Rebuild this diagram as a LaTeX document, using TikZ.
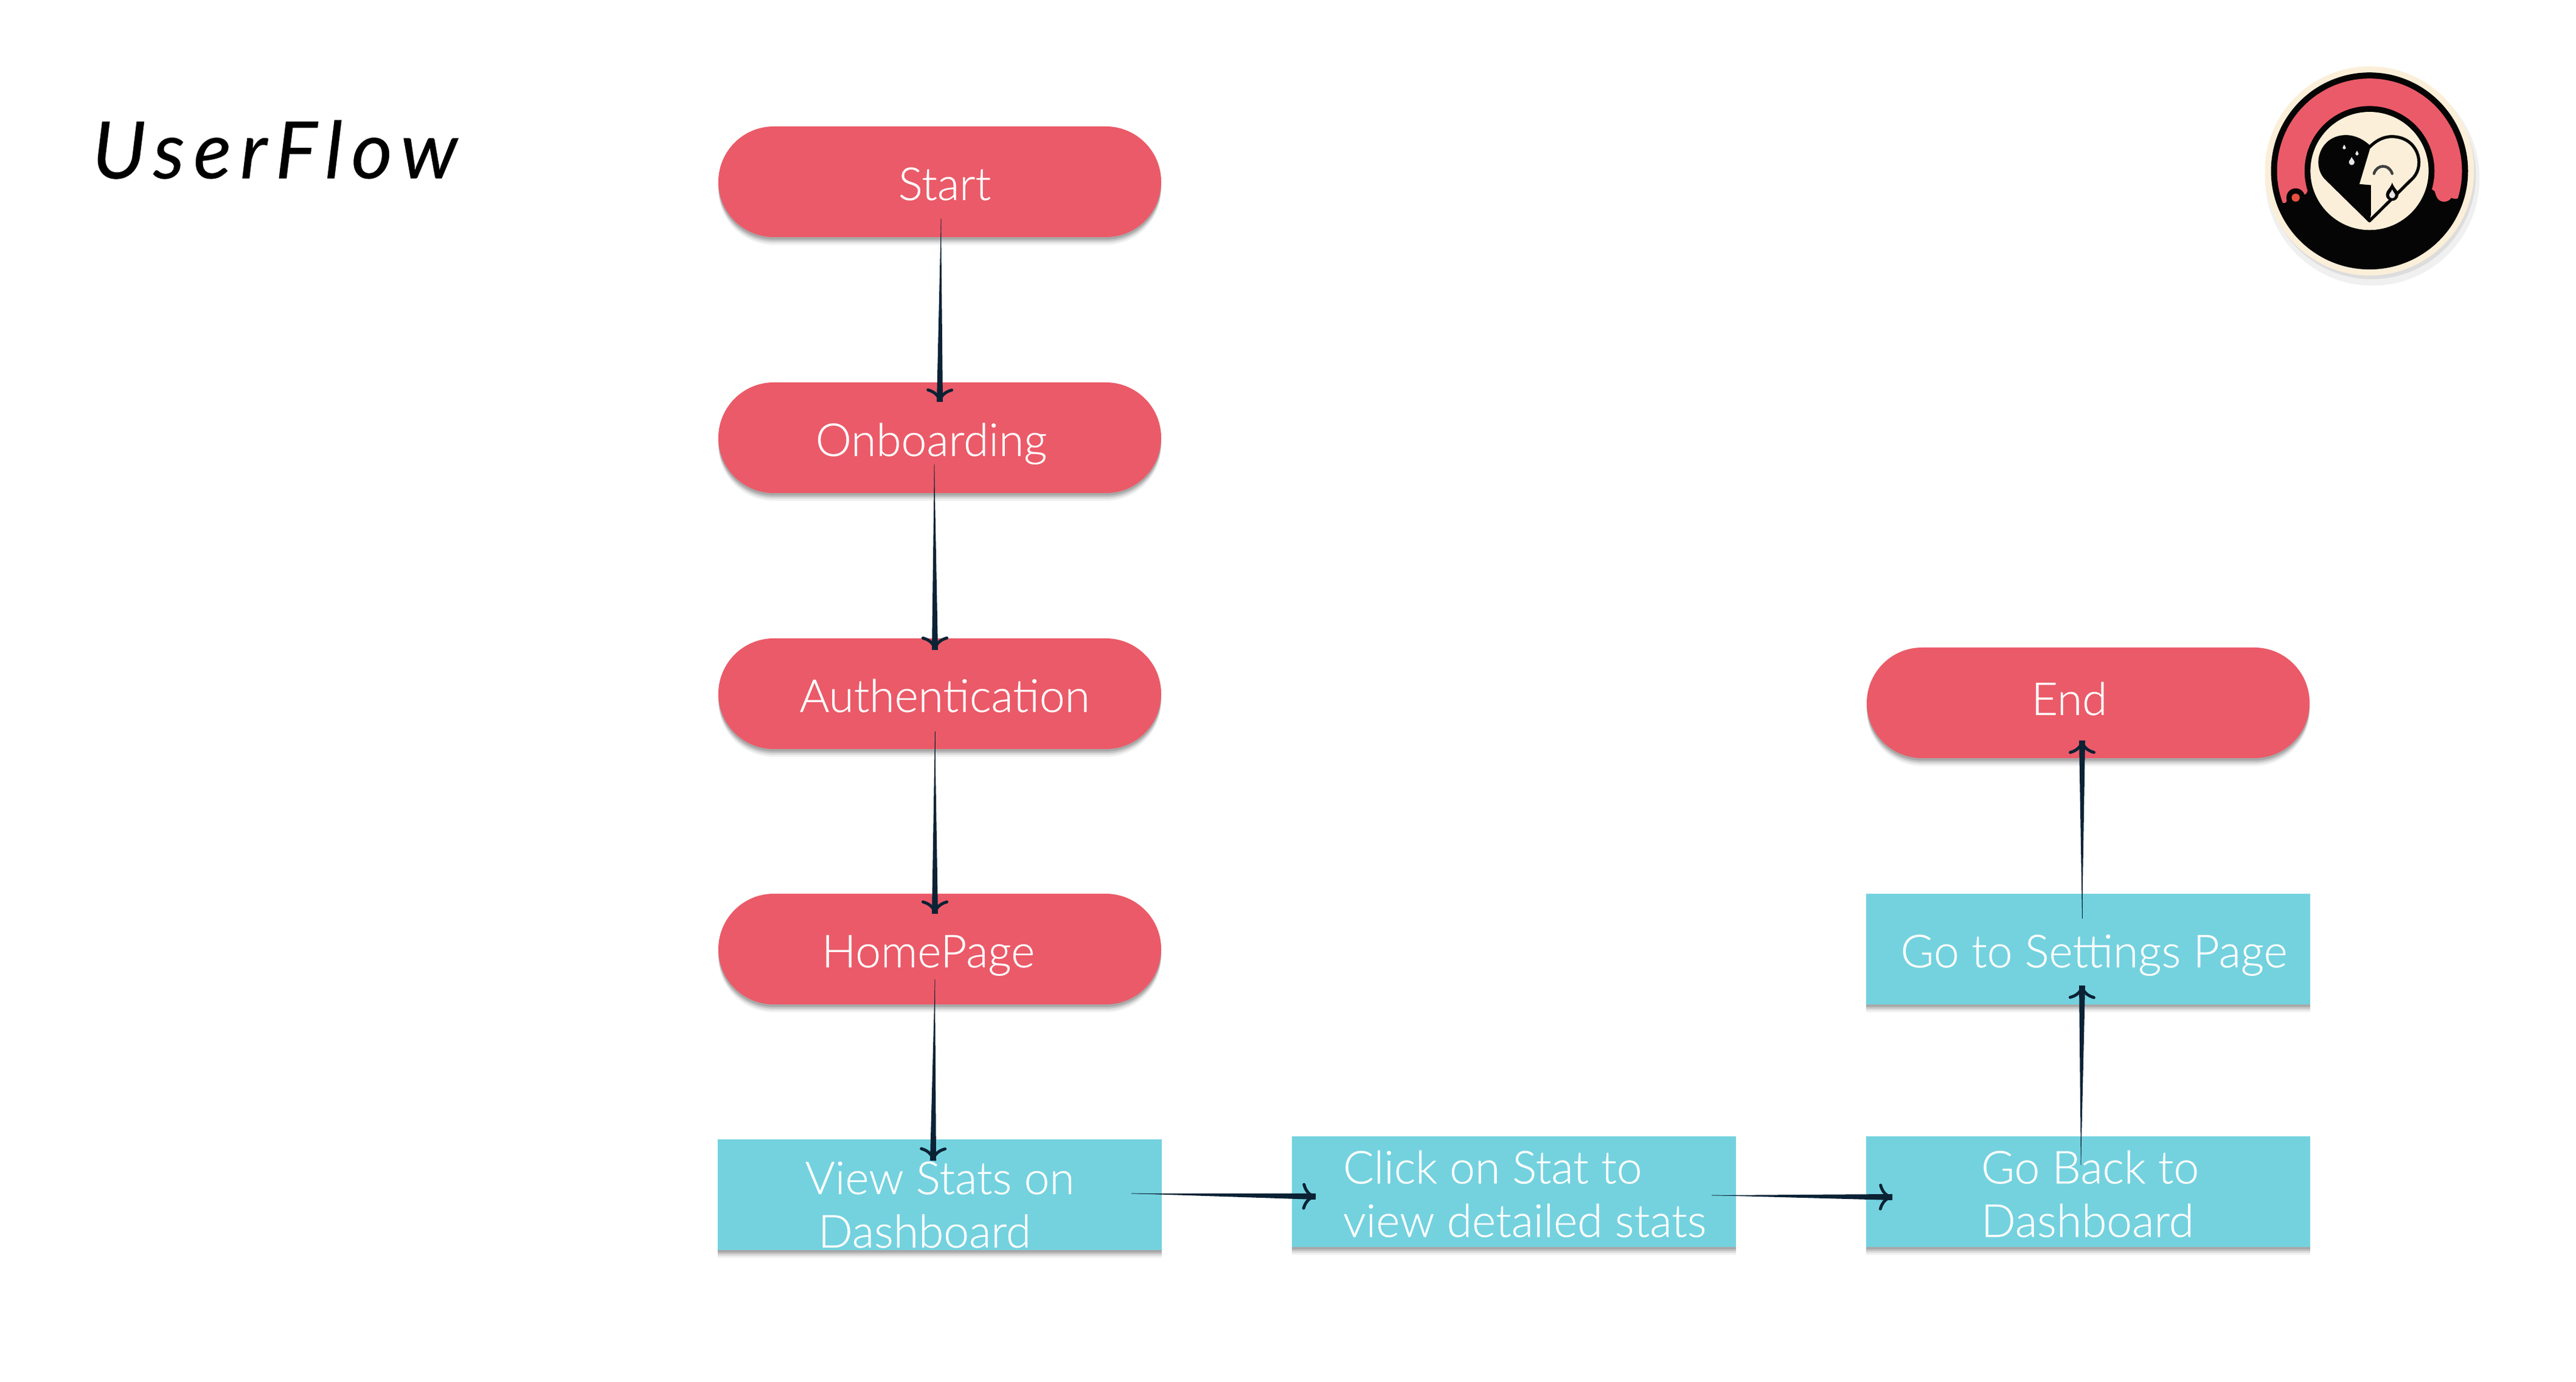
\documentclass[tikz,border=0pt]{standalone}
\usepackage{fontspec}
\setmainfont[FakeBold=0.4]{Lato Light}
\newfontfamily\titlefont[LetterSpace=11,FakeBold=0.25]{Lato}
\usetikzlibrary{arrows.meta,calc,shadows,shapes.misc}

\definecolor{pillred}{HTML}{EB5A68}
\definecolor{boxblue}{HTML}{74D2DF}
\definecolor{flowink}{HTML}{0B2235}
\definecolor{logocream}{HTML}{FBEFD9}
\definecolor{logoblack}{HTML}{050505}
\definecolor{logodot}{HTML}{E8503F}
\definecolor{logotear}{HTML}{E6E6E6}

\tikzset{
  softshadow/.style={
    drop shadow={shadow xshift=0cm,shadow yshift=-0.13cm,opacity=.05,fill=black},
    drop shadow={shadow xshift=0cm,shadow yshift=-0.1cm,opacity=.08,fill=black},
    drop shadow={shadow xshift=0cm,shadow yshift=-0.07cm,opacity=.12,fill=black},
    drop shadow={shadow xshift=0cm,shadow yshift=-0.04cm,opacity=.14,fill=black}},
  pill/.style={rounded rectangle,softshadow,fill=pillred,text=white,inner sep=0pt,
    minimum width=7.28cm,minimum height=1.82cm,text height=0.6cm,text depth=0cm,
    font=\fontsize{21.3}{25}\selectfont},
  stepbox/.style={rectangle,softshadow,fill=boxblue,text=white,inner sep=0pt,
    minimum width=7.3cm,minimum height=1.82cm,font=\fontsize{21.3}{25}\selectfont},
  flowtip/.style={flowink,line width=0.2pt,
    -{Computer Modern Rightarrow[length=0.22cm,width=0.44cm,line width=1.4pt]}}
}

% tapered hand drawn line, thin at its start
\newcommand{\flowarrow}[2]{%
  \fill[flowink] (#1) -- ($(#2)!0.05cm!90:(#1)$) -- ($(#2)!0.05cm!-90:(#1)$) -- cycle;
  \draw[flowtip] (#1) -- (#2);}

\newcommand{\teardrop}[3]{%
  \fill[#1,shift={(#2)},scale=#3] (0,-1.9) .. controls (.3,-1) and (1,-.6) .. (1,0)
    .. controls (1,.6) and (.5,1) .. (0,1) .. controls (-.5,1) and (-1,.6) .. (-1,0)
    .. controls (-1,-.6) and (-.3,-1) .. (0,-1.9) -- cycle;}

\begin{document}
\begin{tikzpicture}
  \useasboundingbox (0,0) rectangle (42.35,22.73);

  \node (title) at (4.52,20.27) {\titlefont\itshape\fontsize{37}{40}\selectfont UserFlow};

  \node[pill] (start)		at (15.45,19.74)	{\hspace*{0.16cm}Start};
  \node[pill] (onboarding)	at (15.45,15.53)	{\hspace*{-0.28cm}Onboarding};
  \node[pill] (authentication)	at (15.45,11.32)	{\hspace*{0.16cm}Authentication};
  \node[pill] (homepage)	at (15.45,7.12)		{\hspace*{-0.38cm}HomePage};
  \node[stepbox,text width=7.3cm,align=flush center,text height=0.5cm,text depth=0.52cm] (view-stats)	at (15.45,3.08)
  	{View Stats on\\\hspace*{-0.5cm}Dashboard};
  \node[stepbox,text width=7.3cm,align=flush left,text height=0.5cm,text depth=0.77cm] (click-stat)	at (24.89,3.13)
  	{\hspace*{0.84cm}Click on Stat to\\\hspace*{0.84cm}view detailed stats};
  \node[stepbox,text width=7.3cm,align=flush left,text height=0.5cm,text depth=0.77cm] (go-back)	at (34.33,3.13)
  	{\hspace*{1.89cm}Go Back to\\\hspace*{1.89cm}Dashboard};
  \node[stepbox,text height=0.6cm,text depth=0cm] (settings)	at (34.33,7.12)	{\hspace*{0.19cm}Go to Settings Page};
  \node[pill,text height=0.4cm] (end)		at (34.33,11.17)	{\hspace*{-0.62cm}End};

  \coordinate (start-out)	at ([shift={(0.02,-0.61)}]start.center);
  \coordinate (onboarding-in)	at ([shift={(0,0.59)}]onboarding.center);
  \coordinate (onboarding-out)	at ([shift={(-0.09,-0.44)}]onboarding.center);
  \coordinate (authentication-in)	at ([shift={(-0.08,0.72)}]authentication.center);
  \coordinate (authentication-out)	at ([shift={(-0.08,-0.62)}]authentication.center);
  \coordinate (homepage-in)	at ([shift={(-0.08,0.58)}]homepage.center);
  \coordinate (homepage-out)	at ([shift={(-0.08,-0.5)}]homepage.center);
  \coordinate (view-stats-in)	at ([shift={(-0.11,0.56)}]view-stats.center);
  \coordinate (view-stats-out)	at ([shift={(3.15,0.02)}]view-stats.center);
  \coordinate (click-stat-in)	at ([shift={(-3.26,-0.08)}]click-stat.center);
  \coordinate (click-stat-out)	at ([shift={(3.25,-0.06)}]click-stat.center);
  \coordinate (go-back-in)	at ([shift={(-3.22,-0.09)}]go-back.center);
  \coordinate (go-back-out)	at ([shift={(-0.12,0.44)}]go-back.center);
  \coordinate (settings-in)	at ([shift={(-0.1,-0.6)}]settings.center);
  \coordinate (settings-out)	at ([shift={(-0.1,0.5)}]settings.center);
  \coordinate (end-in)		at ([shift={(-0.1,-0.62)}]end.center);

  \flowarrow{start-out}{onboarding-in}
  \flowarrow{onboarding-out}{authentication-in}
  \flowarrow{authentication-out}{homepage-in}
  \flowarrow{homepage-out}{view-stats-in}
  \flowarrow{view-stats-out}{click-stat-in}
  \flowarrow{click-stat-out}{go-back-in}
  \flowarrow{go-back-out}{settings-in}
  \flowarrow{settings-out}{end-in}

  % logo, in pixels of the badge
  \begin{scope}[shift={(36.60,22.03)},x=0.003333cm,y=-0.003333cm]
    \fill[black,opacity=.06] (722,672) circle (530);
    \fill[black,opacity=.08] (718,655) circle (515);
    \fill[logocream] (708,635) circle (517);
    \fill[logoblack] (708,635) circle (487);
    \begin{scope}
      \clip (708,635) circle (457);
      \fill[pillred] (230,100) -- (1190,100) -- (1190,720) -- (1160,762)
        .. controls (1150,775) and (1125,775) .. (1112,768)
        .. controls (1100,790) and (1055,800) .. (1038,760) -- (1030,735) -- (1015,725)
        -- (708,635) -- (400,735) .. controls (395,755) and (385,755) .. (375,745)
        -- (300,780) .. controls (298,795) and (280,800) .. (272,785) -- (230,720) -- cycle;
    \end{scope}
    \fill[logoblack] (708,635) circle (321);
    \fill[logocream] (708,635) circle (292);
    \fill[logoblack] (343,767) circle (46);
    \fill[logodot] (343,767) circle (20);
    % heart
    \draw[logoblack,fill=logocream,line width=0.05cm,line join=round]
      (708,882) -- (490,668) .. controls (430,600) and (470,467) .. (590,465)
      .. controls (640,465) and (680,490) .. (708,517)
      .. controls (736,490) and (770,465) .. (820,465)
      .. controls (945,467) and (985,600) .. (925,668) -- cycle;
    \fill[logoblack] (708,885) -- (490,668) .. controls (430,600) and (470,467) .. (590,462)
      .. controls (640,462) and (680,490) .. (712,520) -- (658,700) -- (715,705) -- (715,852) -- cycle;
    \draw[black!75,line width=0.045cm,line cap=round] (730,648) .. controls (745,600) and (805,600) .. (820,648);
    \teardrop{logotear}{583,520}{8}
    \teardrop{logotear}{646,550}{8}
    \teardrop{logotear}{620,592}{14}
    \teardrop{logoblack}{820,752}{31}
    \teardrop{logotear}{820,755}{15}
  \end{scope}
\end{tikzpicture}
\end{document}
